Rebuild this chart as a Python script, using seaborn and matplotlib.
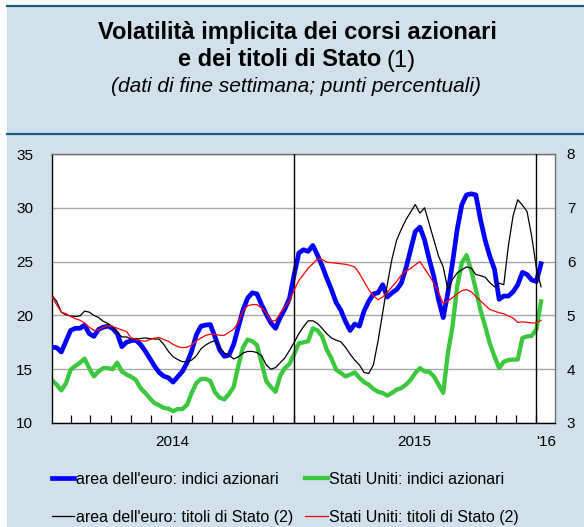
import numpy as np
import pandas as pd
import matplotlib
matplotlib.use("Agg")
import matplotlib.pyplot as plt
import matplotlib.dates as mdates
from matplotlib.patches import Rectangle
from matplotlib.lines import Line2D
import seaborn as sns

plt.rcParams['font.family'] = ['Liberation Sans', 'DejaVu Sans']

# ---------------- data (weekly, end of week) ----------------
start_date = '2014-01-03'

euro_stocks = [17.05, 17.0, 16.6, 17.6, 18.6, 18.8, 18.8, 19.1, 18.3, 18.05,
               18.7, 18.9, 19.0, 18.8, 18.3, 17.1, 17.5, 17.65, 17.7, 17.3,
               16.7, 16.0, 15.3, 14.7, 14.35, 14.2, 13.8, 14.3,
               14.8, 15.6, 16.7, 18.2, 19.0, 19.1, 19.15, 18.0, 16.8, 16.2,
               16.3, 17.3, 18.9, 20.5, 21.6, 22.1, 22.0, 21.0, 20.1, 19.3,
               18.8, 19.8, 20.6, 21.6, 23.8, 25.8,
               26.1, 25.95, 26.5, 25.6, 24.6, 23.45, 22.4, 21.2, 20.5, 19.45,
               18.6, 19.2, 19.0, 20.4, 21.3, 22.0, 22.1, 22.85, 21.7, 22.1,
               22.4, 23.0, 24.4, 26.1, 27.8, 28.2, 27.0, 25.2, 23.6, 21.45,
               19.8, 22.1, 24.9, 28.0, 30.3, 31.2, 31.3, 31.2, 28.9, 27.0,
               25.5, 24.3, 21.5, 21.8, 21.8, 22.2, 22.85, 24.0, 23.8, 23.3,
               23.15, 24.8]

us_stocks = [13.96, 13.56, 13.03, 13.7, 14.95, 15.3, 15.6, 15.98, 15.1, 14.33,
             14.8, 15.1, 15.1, 15.0, 15.6, 14.8, 14.5, 14.3, 14.0, 13.25,
             12.8, 12.3, 11.85, 11.65, 11.4, 11.33, 11.1, 11.3,
             11.3, 11.7, 12.8, 13.7, 14.1, 14.1, 13.9, 12.85, 12.35, 12.2,
             12.7, 13.35, 15.3, 17.0, 17.75, 17.6, 17.25, 15.6, 13.9, 13.35,
             12.9, 14.4, 15.1, 15.5, 16.4, 17.4,
             17.5, 17.6, 18.8, 18.6, 18.05, 16.8, 16.0, 14.95, 14.65, 14.33,
             14.5, 14.7, 14.2, 13.8, 13.56, 13.16, 12.9, 12.8, 12.54, 12.8,
             13.1, 13.25, 13.56, 14.0, 14.65, 15.1, 14.8, 14.75, 14.33, 13.56,
             12.8, 16.5, 19.0, 22.7, 24.9, 25.6, 24.2, 22.4, 20.5, 19.0,
             17.4, 16.2, 15.1, 15.7, 15.85, 15.9, 15.9, 17.9, 18.05, 18.1,
             18.7, 21.3]

euro_bonds = [5.37, 5.26, 5.06, 5.01, 4.99, 4.98, 4.99, 5.08, 5.06, 5.0,
              4.96, 4.89, 4.85, 4.78, 4.68, 4.6, 4.6, 4.56, 4.56, 4.57,
              4.58, 4.57, 4.56, 4.56, 4.46, 4.33, 4.23, 4.18,
              4.14, 4.14, 4.17, 4.25, 4.38, 4.45, 4.5, 4.53, 4.4, 4.3,
              4.26, 4.19, 4.23, 4.3, 4.33, 4.33, 4.31, 4.25, 4.08, 4.0,
              4.03, 4.12, 4.21, 4.35, 4.5, 4.66,
              4.79, 4.9, 4.9, 4.85, 4.76, 4.66, 4.58, 4.54, 4.51, 4.41,
              4.28, 4.17, 4.08, 3.94, 3.92, 4.08, 4.52, 5.05, 5.58, 6.05,
              6.4, 6.6, 6.78, 6.92, 7.06, 6.9, 7.0, 6.7, 6.4, 6.1,
              5.9, 5.48, 5.67, 5.79, 5.85, 5.9, 5.88, 5.76, 5.74, 5.71,
              5.61, 5.53, 5.6, 5.57, 6.3, 6.85, 7.15, 7.05, 6.93, 6.47,
              5.88, 5.53]

us_bonds = [5.35, 5.2, 5.06, 5.03, 4.98, 4.94, 4.91, 4.86, 4.78, 4.72,
            4.73, 4.78, 4.81, 4.8, 4.76, 4.73, 4.7, 4.58, 4.56, 4.53,
            4.52, 4.55, 4.58, 4.59, 4.55, 4.52, 4.46, 4.42,
            4.4, 4.41, 4.45, 4.53, 4.58, 4.63, 4.65, 4.65, 4.63, 4.63,
            4.69, 4.74, 4.87, 5.08, 5.18, 5.2, 5.2, 5.14, 5.05, 4.9,
            4.9, 5.04, 5.16, 5.27, 5.47, 5.65,
            5.76, 5.88, 5.96, 6.05, 6.04, 5.99, 5.98, 5.97, 5.96, 5.95,
            5.93, 5.9, 5.78, 5.63, 5.48, 5.37, 5.29, 5.34, 5.43, 5.53,
            5.63, 5.75, 5.83, 5.87, 5.94, 6.0, 5.87, 5.74, 5.6, 5.42,
            5.22, 5.27, 5.33, 5.4, 5.46, 5.48, 5.44, 5.35, 5.27, 5.19,
            5.11, 5.08, 5.05, 5.03, 4.99, 4.95, 4.87, 4.88, 4.87, 4.86,
            4.86, 4.91]

year_labels = ['2014', '2015', "'16"]
year_label_dates = ['2014-07-02', '2015-07-02', '2016-01-15']
year_breaks = ['2015-01-01', '2016-01-01']
legend_labels = ["area dell'euro: indici azionari",
                 "area dell'euro: titoli di Stato (2)",
                 "Stati Uniti: indici azionari",
                 "Stati Uniti: titoli di Stato (2)"]

dates = pd.date_range(start_date, periods=len(euro_stocks), freq='7D')
df = pd.DataFrame({'date': dates,
                   'euro_stocks': euro_stocks,
                   'us_stocks': us_stocks,
                   'euro_bonds': euro_bonds,
                   'us_bonds': us_bonds})

# ---------------- figure ----------------
W, H = 584, 527
PANEL = '#d0e1eb'
DARK = '#1f5d7d'
BLUE = '#0000ff'
GREEN = '#3cc83c'
RED = '#ff0000'

fig = plt.figure(figsize=(W / 100, H / 100), dpi=100)
fig.patch.set_facecolor('white')
fig.add_artist(Rectangle((6.5 / W, 0), 1, 1 - 6 / H, transform=fig.transFigure,
                         facecolor=PANEL, edgecolor='none', zorder=0))
fig.add_artist(Line2D([6.5 / W, 1], [1 - 6 / H] * 2, transform=fig.transFigure,
                      color=DARK, lw=1.6, zorder=1))
fig.add_artist(Line2D([6.5 / W, 1], [1 - 133.5 / H] * 2, transform=fig.transFigure,
                      color=DARK, lw=1.6, zorder=1))

# titles
fig.text(297 / W, 1 - 39.5 / H, 'Volatilità implicita dei corsi azionari',
         ha='center', va='baseline', fontsize=17, fontweight='bold')
renderer = fig.canvas.get_renderer()
t1 = fig.text(0, 1 - 66.5 / H, 'e dei titoli di Stato', ha='left', va='baseline',
              fontsize=17, fontweight='bold')
t2 = fig.text(0, 1 - 66.5 / H, '(1)', ha='left', va='baseline', fontsize=17)
w1 = t1.get_window_extent(renderer).width
w2 = t2.get_window_extent(renderer).width
gap = 5.0
x0 = 297 - (w1 + gap + w2) / 2
t1.set_x(x0 / W)
t2.set_x((x0 + w1 + gap) / W)
fig.text(296 / W, 1 - 92.5 / H, '(dati di fine settimana; punti percentuali)',
         ha='center', va='baseline', fontsize=15, style='italic')

# axes
ax = fig.add_axes([52 / W, 1 - 423 / H, 503 / W, 269 / H])
ax.set_facecolor('white')
ax.set_axisbelow(True)

sns.lineplot(data=df, x='date', y='euro_stocks', ax=ax, color=BLUE, lw=3.4,
             label=legend_labels[0], legend=False, zorder=3)
sns.lineplot(data=df, x='date', y='us_stocks', ax=ax, color=GREEN, lw=3.1,
             label=legend_labels[2], legend=False, zorder=2)
for d in year_breaks:
    ax.axvline(pd.Timestamp(d), color='black', lw=1.0, zorder=4)

ax.set_ylim(10, 35)
ax.set_yticks(np.arange(10, 36, 5))
ax.set_xlim(pd.Timestamp('2014-01-03'), pd.Timestamp('2016-01-29'))
ax.set_xlabel('')
ax.set_ylabel('')
ax.grid(axis='y', color='#a8a8a8', lw=1.0)
ax.grid(axis='x', visible=False)
ax.tick_params(axis='y', length=0, pad=13.5, labelsize=11)

ax.xaxis.remove_overlapping_locs = False
ax.xaxis.set_minor_locator(mdates.MonthLocator())
ax.set_xticks([pd.Timestamp(d) for d in year_label_dates])
ax.set_xticklabels(year_labels)
ax.tick_params(axis='x', which='major', length=0, pad=9, labelsize=11)
ax.tick_params(axis='x', which='minor', direction='in', length=5.5, width=0.9,
               color='black')
for s in ['left', 'bottom']:
    ax.spines[s].set_color('black')
    ax.spines[s].set_linewidth(1.0)
for s in ['top', 'right']:
    ax.spines[s].set_color('#6e6e6e')
    ax.spines[s].set_linewidth(1.0)

ax2 = ax.twinx()
sns.lineplot(data=df, x='date', y='euro_bonds', ax=ax2, color='black', lw=0.9,
             label=legend_labels[1], legend=False)
sns.lineplot(data=df, x='date', y='us_bonds', ax=ax2, color=RED, lw=0.9,
             label=legend_labels[3], legend=False)
ax2.set_ylim(3, 8)
ax2.set_yticks(np.arange(3, 9, 1))
ax2.set_ylabel('')
ax2.tick_params(axis='y', length=0, pad=8.5, labelsize=11)
for s in ax2.spines.values():
    s.set_visible(False)
ax.set_xlim(pd.Timestamp('2014-01-03'), pd.Timestamp('2016-01-29'))

h1, l1 = ax.get_legend_handles_labels()
h2, l2 = ax2.get_legend_handles_labels()
hmap = dict(zip(l1 + l2, h1 + h2))
handles = [hmap[l] for l in legend_labels]
fig.legend(handles, legend_labels, ncol=2, loc='upper left',
           bbox_to_anchor=(51.7 / W, 1 - 472 / H), bbox_transform=fig.transFigure,
           frameon=False, fontsize=11.5, handlelength=1.4, handletextpad=0.12,
           columnspacing=0.75, labelspacing=1.42, borderpad=0, borderaxespad=0)

fig.savefig('out.png', dpi=100, facecolor=fig.get_facecolor())
